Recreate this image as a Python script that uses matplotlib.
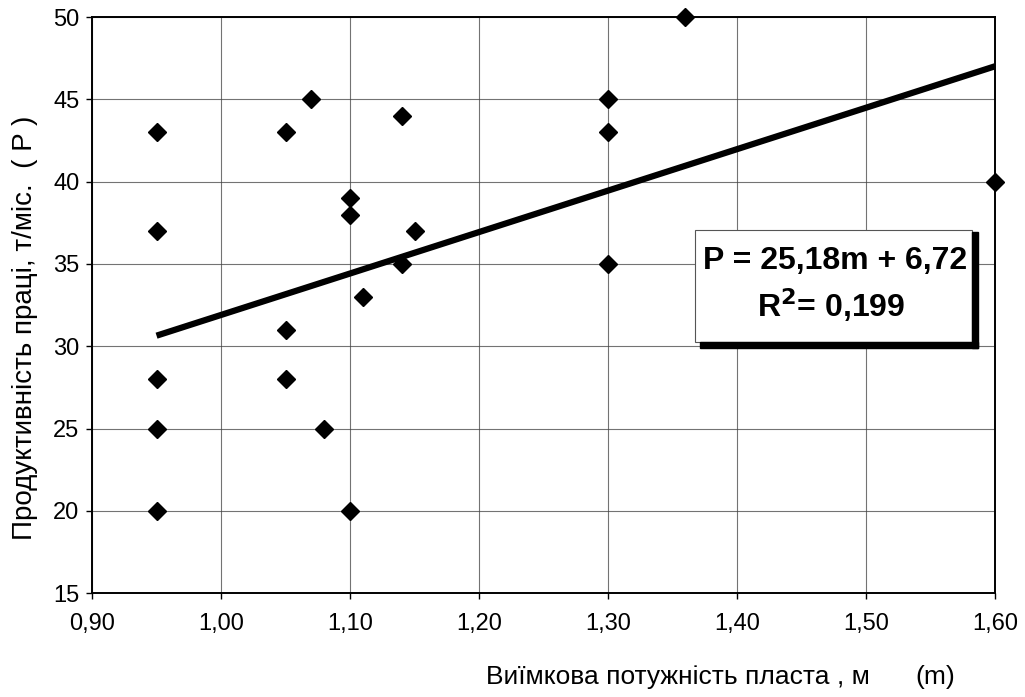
import matplotlib.pyplot as plt

# seam thickness m, productivity P (t/month)
m_vals = [0.95, 0.95, 0.95, 0.95, 0.95,
          1.05, 1.05, 1.05, 1.07, 1.08,
          1.10, 1.10, 1.10, 1.11, 1.14, 1.14, 1.15,
          1.30, 1.30, 1.30, 1.36, 1.60]
p_vals = [43, 37, 28, 25, 20,
          43, 31, 28, 45, 25,
          39, 38, 20, 33, 44, 35, 37,
          45, 43, 35, 50, 40]

slope, intercept = 25.18, 6.72
fit_x = [0.95, 1.60]
x_ticks = [0.90, 1.00, 1.10, 1.20, 1.30, 1.40, 1.50, 1.60]
y_ticks = [15, 20, 25, 30, 35, 40, 45, 50]

plt.rcParams["font.family"] = ["Liberation Sans", "DejaVu Sans"]

fig = plt.figure(figsize=(10.25, 6.97), dpi=100)
ax = fig.add_axes([0.0898, 0.149, 0.881, 0.8266])

ax.grid(True, color="#444444", lw=0.8, alpha=0.75)
ax.set_axisbelow(True)

ax.plot(m_vals, p_vals, ls="none", marker="D", ms=9, color="black", zorder=3,
        clip_on=False)
ax.plot(fit_x, [slope * x + intercept for x in fit_x], color="black", lw=4.5,
        solid_capstyle="butt", zorder=4)

ax.set_xlim(0.90, 1.60)
ax.set_ylim(15, 50)
ax.set_xticks(x_ticks)
ax.set_xticklabels([f"{t:.2f}".replace(".", ",") for t in x_ticks], fontsize=17)
ax.set_yticks(y_ticks)
ax.set_yticklabels([str(t) for t in y_ticks], fontsize=17)
ax.tick_params(length=4, width=1, color="black")
ax.tick_params(axis="x", pad=10)
ax.tick_params(axis="y", pad=5)
for s in ax.spines.values():
    s.set_color("black")
    s.set_linewidth(1.4)

# equation box (white, thin border) with heavy right/bottom shadow
fig.patches.append(plt.Rectangle((0.678, 0.509), 0.270, 0.161, transform=fig.transFigure,
                                 fc="white", ec="#555555", lw=0.8, zorder=6))
fig.patches.append(plt.Rectangle((0.9483, 0.501), 0.0059, 0.166, transform=fig.transFigure,
                                 color="black", zorder=7))
fig.patches.append(plt.Rectangle((0.683, 0.501), 0.271, 0.0086, transform=fig.transFigure,
                                 color="black", zorder=7))
fig.text(0.815, 0.625, "P = 25,18m + 6,72", fontsize=23, fontweight="bold",
         ha="center", va="center", zorder=8)
fig.text(0.811, 0.562, "R$^{\\mathbf{2}}$= 0,199", fontsize=23, fontweight="bold",
         ha="center", va="center", zorder=8)

fig.text(0.0244, 0.529, "Продуктивність праці, т/міс.  ( P )", rotation=90,
         ha="center", va="center", fontsize=20)
fig.text(0.661, 0.029, "Виїмкова потужність пласта , м",
         ha="center", va="center", fontsize=19)
fig.text(0.912, 0.029, "(m)", ha="center", va="center", fontsize=19)

fig.savefig("out.png", dpi=100)
